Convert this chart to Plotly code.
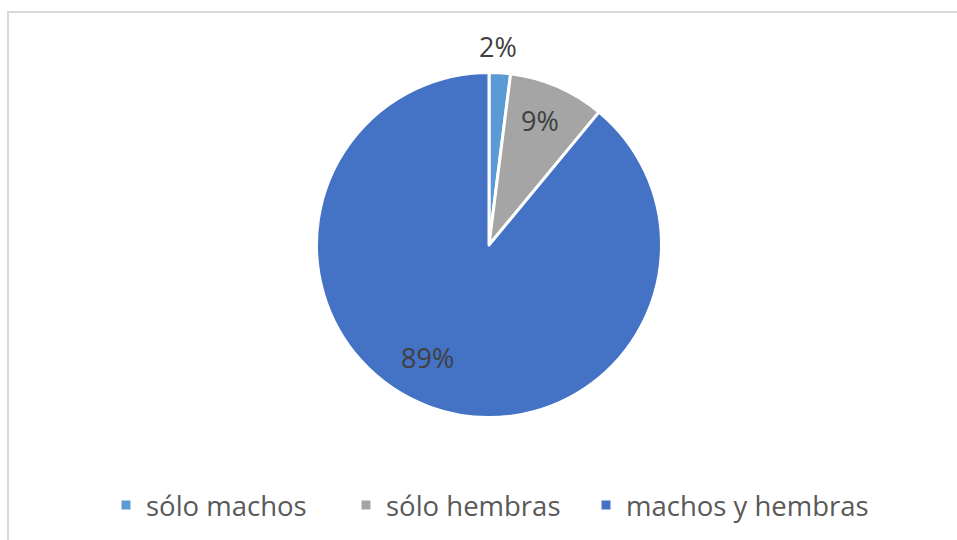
import plotly.graph_objects as go

categories = ["sólo machos", "sólo hembras", "machos y hembras"]
values = [2, 9, 89]
colors = ["#5B9BD5", "#A5A5A5", "#4472C4"]

W, H = 957, 540
cx, cy, r = 489, 245, 172.5

# label anchor points (pixels) for the data labels
label_px = [(498, 47), (540, 120), (427, 357)]

fig = go.Figure(go.Pie(
    labels=categories,
    values=values,
    sort=False,
    direction="clockwise",
    rotation=0,
    marker=dict(colors=colors, line=dict(color="white", width=3)),
    textinfo="none",
    domain=dict(x=[(cx - r) / W, (cx + r) / W], y=[1 - (cy + r) / H, 1 - (cy - r) / H]),
    hoverinfo="label+percent",
))

total = sum(values)
annotations = []
for v, (px, py) in zip(values, label_px):
    annotations.append(dict(
        x=px / W, y=1 - py / H, xref="paper", yref="paper",
        text=f"{round(100 * v / total)}%", showarrow=False,
        xanchor="center", yanchor="middle",
        font=dict(family="Open Sans", size=27, color="#404040"),
    ))

fig.update_layout(
    width=W, height=H,
    margin=dict(l=0, r=0, t=0, b=0),
    paper_bgcolor="white",
    showlegend=True,
    legend=dict(
        orientation="h", x=106 / W, xanchor="left", y=1 - 505 / H, yanchor="middle",
        font=dict(family="Open Sans", size=27.5, color="#595959"),
        traceorder="normal",
        entrywidth=195, entrywidthmode="pixels",
    ),
    annotations=annotations,
    shapes=[dict(type="rect", xref="paper", yref="paper",
                 x0=8 / W, x1=1.05, y0=-0.05, y1=1 - 12 / H,
                 line=dict(color="#D9D9D9", width=2), fillcolor="rgba(0,0,0,0)")],
)

post = """
document.body.style.margin='0';document.body.style.overflow='hidden';
document.querySelectorAll('.legend .scrollbox').forEach(function(e){e.removeAttribute('clip-path');});
document.querySelectorAll('.legend .legendpie path').forEach(function(p){p.setAttribute('transform','scale(1.25)');});
"""
fig.write_html("out.html", config={"displayModeBar": False}, post_script=post)
